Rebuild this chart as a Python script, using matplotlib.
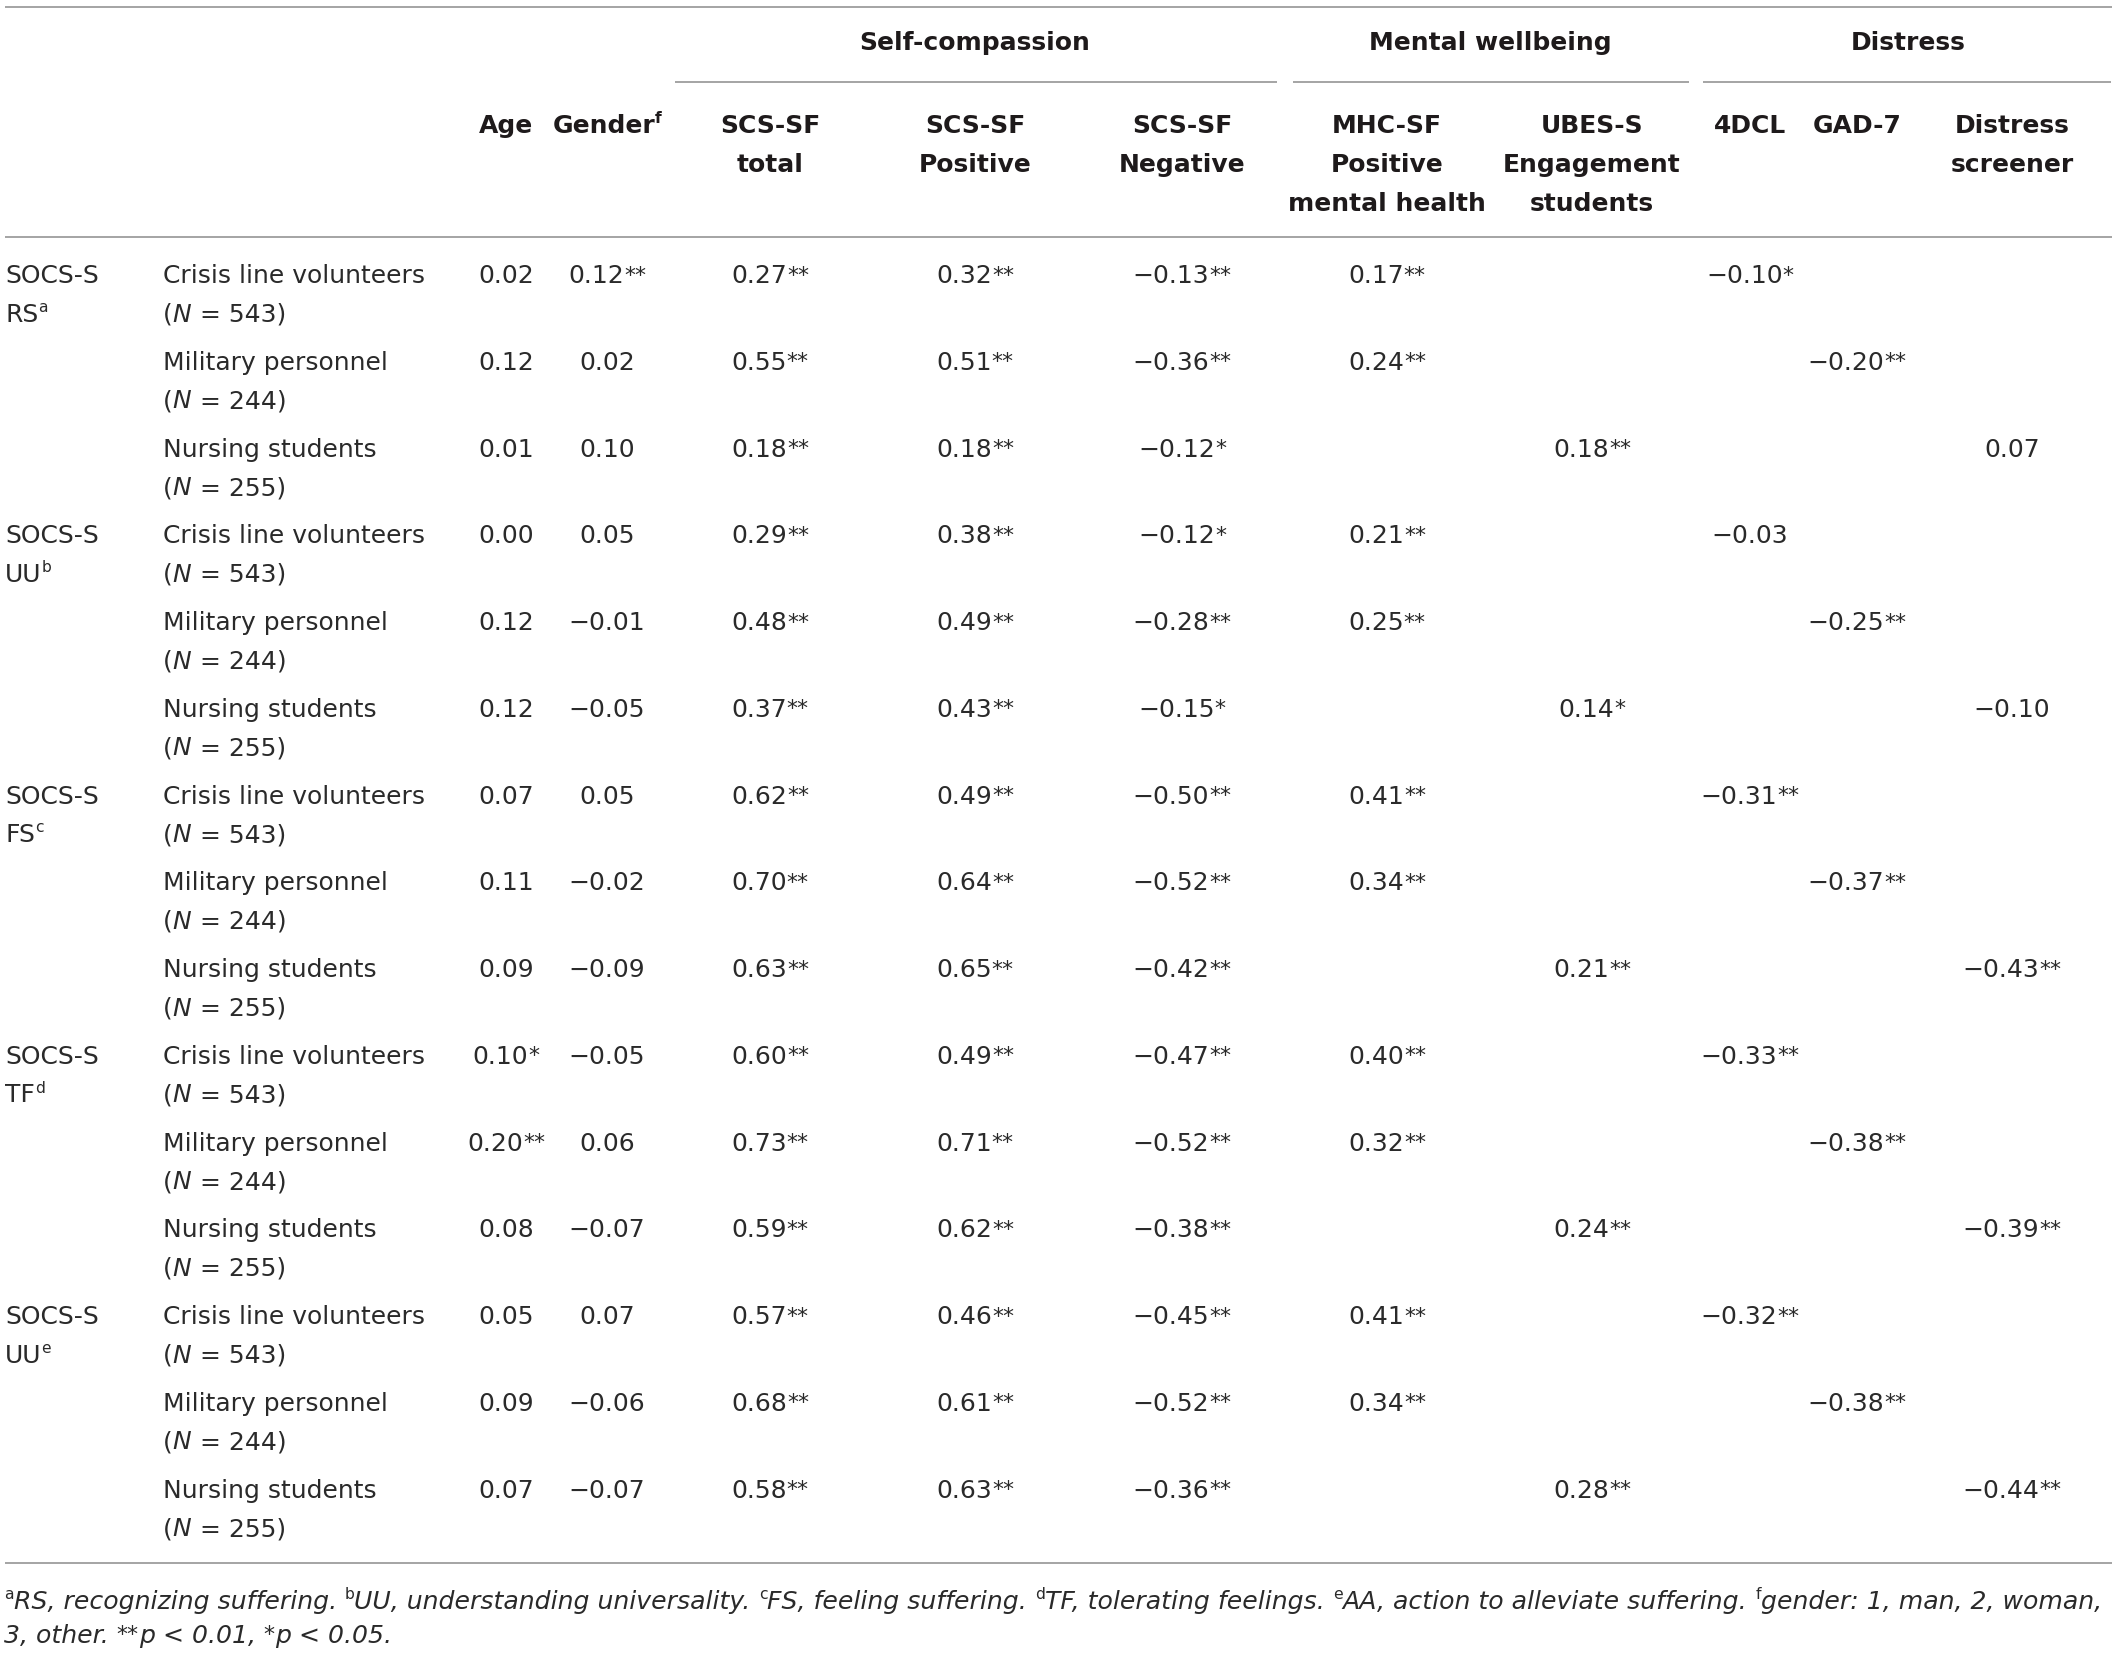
import matplotlib
matplotlib.use('Agg')
import matplotlib.pyplot as plt

# ---------------- data ----------------
subscales = ['RS', 'UU', 'FS', 'TF', 'UU']
subscale_sups = ['a', 'b', 'c', 'd', 'e']
samples = ['Crisis line volunteers', 'Military personnel', 'Nursing students']
sample_n = ['543', '244', '255']

group_headers = ['Self-compassion', 'Mental wellbeing', 'Distress']
col_headers = [['Age'], ['Gender'], ['SCS-SF', 'total'], ['SCS-SF', 'Positive'],
               ['SCS-SF', 'Negative'], ['MHC-SF', 'Positive', 'mental health'],
               ['UBES-S', 'Engagement', 'students'], ['4DCL'], ['GAD-7'],
               ['Distress', 'screener']]
col_header_sups = ['', 'f', '', '', '', '', '', '', '', '']

age = ['0.02', '0.12', '0.01', '0.00', '0.12', '0.12', '0.07', '0.11', '0.09',
       '0.10*', '0.20**', '0.08', '0.05', '0.09', '0.07']
gender = ['0.12**', '0.02', '0.10', '0.05', '−0.01', '−0.05', '0.05', '−0.02', '−0.09',
          '−0.05', '0.06', '−0.07', '0.07', '−0.06', '−0.07']
scs_total = ['0.27**', '0.55**', '0.18**', '0.29**', '0.48**', '0.37**', '0.62**', '0.70**',
             '0.63**', '0.60**', '0.73**', '0.59**', '0.57**', '0.68**', '0.58**']
scs_positive = ['0.32**', '0.51**', '0.18**', '0.38**', '0.49**', '0.43**', '0.49**', '0.64**',
                '0.65**', '0.49**', '0.71**', '0.62**', '0.46**', '0.61**', '0.63**']
scs_negative = ['−0.13**', '−0.36**', '−0.12*', '−0.12*', '−0.28**', '−0.15*', '−0.50**',
                '−0.52**', '−0.42**', '−0.47**', '−0.52**', '−0.38**', '−0.45**', '−0.52**',
                '−0.36**']
mhc_sf = ['0.17**', '0.24**', '', '0.21**', '0.25**', '', '0.41**', '0.34**', '',
          '0.40**', '0.32**', '', '0.41**', '0.34**', '']
ubes_s = ['', '', '0.18**', '', '', '0.14*', '', '', '0.21**', '', '', '0.24**', '', '', '0.28**']
dcl4 = ['−0.10*', '', '', '−0.03', '', '', '−0.31**', '', '', '−0.33**', '', '', '−0.32**', '', '']
gad7 = ['', '−0.20**', '', '', '−0.25**', '', '', '−0.37**', '', '', '−0.38**', '', '', '−0.38**', '']
distress = ['', '', '0.07', '', '', '−0.10', '', '', '−0.43**', '', '', '−0.39**', '', '', '−0.44**']

columns = [age, gender, scs_total, scs_positive, scs_negative, mhc_sf, ubes_s, dcl4, gad7, distress]

footnote_items = [('a', 'RS, recognizing suffering. '), ('b', 'UU, understanding universality. '),
                  ('c', 'FS, feeling suffering. '), ('d', 'TF, tolerating feelings. '),
                  ('e', 'AA, action to alleviate suffering. '), ('f', 'gender: 1, man, 2, woman,')]

# ---------------- layout ----------------
W, H = 2118, 1654
FONT = 'DejaVu Sans'
TXT = '#2a2a2a'
HDR = '#1e1a1b'
LINE = '#8c8c8c'
BS = 18.0

col_x = [506, 607, 770, 975, 1182, 1387, 1592, 1750, 1857, 2012]
group_x = [975, 1490, 1908]
group_spans = [(675, 1277), (1293, 1689), (1703, 2111)]
label_x0, label_x1 = 5, 163
row_y0, row_dy, line2_dy = 283, 86.76, 38.5
header_ys = [133, 172, 211]
group_y = 50

fig = plt.figure(figsize=(W / 100, H / 100), dpi=100)
ax = fig.add_axes([0, 0, 1, 1])
ax.set_xlim(0, W)
ax.set_ylim(H, 0)
ax.axis('off')
R = fig.canvas.get_renderer()

reg = dict(family=FONT, size=BS, color=TXT)
ita = dict(family=FONT, size=BS, color=TXT, style='italic')
bold = dict(family=FONT, size=BS, color=HDR, weight='bold')
sup_l = dict(family=FONT, size=BS * 0.62, color=TXT)
sup_lb = dict(family=FONT, size=BS * 0.62, color=HDR, weight='bold')
sup_a = dict(family=FONT, size=BS * 0.88, color=TXT)
px = BS * 100 / 72.0
RAISE_L = 0.39 * px
RAISE_A = 0.06 * px

_cache = {}


def adv(s, st):
    key = (s, tuple(sorted(st.items())))
    if key in _cache:
        return _cache[key]
    t1 = ax.text(0, 0, '|' + s + '|', **st)
    t2 = ax.text(0, 0, '||', **st)
    w = t1.get_window_extent(R).width - t2.get_window_extent(R).width
    t1.remove()
    t2.remove()
    _cache[key] = w
    return w


def draw_runs(x, y, runs, ha='left'):
    ws = [adv(t, st) for t, st, dy in runs]
    tot = sum(ws)
    if ha == 'center':
        x0 = x - tot / 2
    elif ha == 'right':
        x0 = x - tot
    else:
        x0 = x
    for (t, st, dy), w in zip(runs, ws):
        ax.text(x0, y - dy, t, ha='left', va='baseline', **st)
        x0 += w
    return tot


def value_runs(v):
    num = v.rstrip('*')
    stars = v[len(num):]
    runs = [(num, reg, 0)]
    if stars:
        runs.append((stars, sup_a, RAISE_A))
    return runs


# ---------------- rules ----------------
for yy in (7, 237, 1563):
    ax.plot([5, 2112], [yy, yy], color=LINE, lw=1.1, solid_capstyle='butt')
for a, b in group_spans:
    ax.plot([a, b], [82, 82], color=LINE, lw=1.1, solid_capstyle='butt')

# ---------------- headers ----------------
for g, gx in zip(group_headers, group_x):
    draw_runs(gx, group_y, [(g, bold, 0)], ha='center')

for lines, sup, cx in zip(col_headers, col_header_sups, col_x):
    for i, ln in enumerate(lines):
        runs = [(ln, bold, 0)]
        if sup and i == 0:
            runs.append((sup, sup_lb, RAISE_L))
        draw_runs(cx, header_ys[i], runs, ha='center')

# ---------------- body ----------------
for gi, (sc, ss) in enumerate(zip(subscales, subscale_sups)):
    for si, (sm, n) in enumerate(zip(samples, sample_n)):
        r = gi * 3 + si
        y = row_y0 + r * row_dy
        if si == 0:
            draw_runs(label_x0, y, [('SOCS-S', reg, 0)])
            draw_runs(label_x0, y + line2_dy, [(sc, reg, 0), (ss, sup_l, RAISE_L)])
        draw_runs(label_x1, y, [(sm, reg, 0)])
        draw_runs(label_x1, y + line2_dy, [('(', reg, 0), ('N ', ita, 0), ('= ' + n + ')', reg, 0)])
        for col, cx in zip(columns, col_x):
            v = col[r]
            if v:
                draw_runs(cx, y, value_runs(v), ha='center')

# ---------------- footnote ----------------
FS = 18.0


def foot_runs(fs):
    it = dict(family=FONT, size=fs, color=TXT, style='italic')
    sp = dict(family=FONT, size=fs * 0.62, color=TXT)
    rz = 0.39 * fs * 100 / 72.0
    line1 = []
    for s, t in footnote_items:
        line1.append((s, sp, rz))
        line1.append((t, it, 0))
    spa = dict(family=FONT, size=fs * 0.88, color=TXT)
    ra = 0.06 * fs * 100 / 72.0
    line2 = [('3, other. ', it, 0), ('**', spa, ra), ('p ', it, 0), ('< 0.01, ', it, 0),
             ('*', spa, ra), ('p ', it, 0), ('< 0.05.', it, 0)]
    return line1, line2


l1, _ = foot_runs(FS)
w1 = sum(adv(t, st) for t, st, dy in l1)
FS = FS * (2104 - 4) / w1
l1, l2 = foot_runs(FS)
draw_runs(4, 1609, l1)
draw_runs(4, 1643, l2)

fig.savefig('out.png', dpi=100, facecolor='white')
